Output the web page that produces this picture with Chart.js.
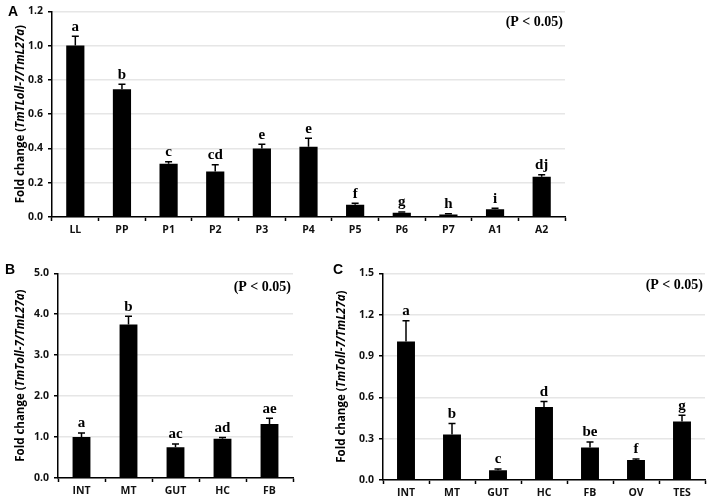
<!DOCTYPE html>
<html>
<head>
<meta charset="utf-8">
<script src="https://cdn.jsdelivr.net/npm/chart.js@4/dist/chart.umd.min.js"></script>
<style>
  body { margin: 0; background: #fff; }
  #wrap { position: relative; width: 708px; height: 500px; overflow: hidden; }
  .box { position: absolute; }
  .panel { position: absolute; font: bold 14px "Liberation Sans", Arial, sans-serif; color: #000; }
</style>
</head>
<body>
<div id="wrap">
  <div class="box" style="left:0;top:0;width:575px;height:245px"><canvas id="chartA"></canvas></div>
  <div class="box" style="left:0;top:262px;width:300px;height:238px"><canvas id="chartB"></canvas></div>
  <div class="box" style="left:330px;top:262px;width:378px;height:238px"><canvas id="chartC"></canvas></div>
  <div class="panel" style="left:8px;top:3px">A</div>
  <div class="panel" style="left:5px;top:261px">B</div>
  <div class="panel" style="left:333px;top:261px">C</div>
</div>
<script>
// Panel A: developmental stages
const stagesA = ['LL', 'PP', 'P1', 'P2', 'P3', 'P4', 'P5', 'P6', 'P7', 'A1', 'A2'];
const foldA = [1.00, 0.745, 0.31, 0.265, 0.40, 0.41, 0.072, 0.025, 0.015, 0.045, 0.235];
const errA = [0.055, 0.03, 0.012, 0.04, 0.025, 0.05, 0.008, 0.004, 0.004, 0.006, 0.012];
const sigA = ['a', 'b', 'c', 'cd', 'e', 'e', 'f', 'g', 'h', 'i', 'dj'];
const ticksA = [0, 0.2, 0.4, 0.6, 0.8, 1.0, 1.2];

// Panel B: larval tissues
const tissuesB = ['INT', 'MT', 'GUT', 'HC', 'FB'];
const foldB = [1.0, 3.75, 0.75, 0.96, 1.32];
const errB = [0.1, 0.2, 0.08, 0.03, 0.14];
const sigB = ['a', 'b', 'ac', 'ad', 'ae'];
const ticksB = [0, 1, 2, 3, 4, 5];

// Panel C: adult tissues
const tissuesC = ['INT', 'MT', 'GUT', 'HC', 'FB', 'OV', 'TES'];
const foldC = [1.005, 0.33, 0.07, 0.53, 0.235, 0.145, 0.425];
const errC = [0.15, 0.08, 0.01, 0.04, 0.04, 0.008, 0.045];
const sigC = ['a', 'b', 'c', 'd', 'be', 'f', 'g'];
const ticksC = [0, 0.3, 0.6, 0.9, 1.2, 1.5];

const tickFont = { family: '"Open Sans", sans-serif', size: 10.5, weight: 'bold' };

// error bars + significance letters + p-value note + y title
const extrasPlugin = {
  id: 'extras',
  afterDatasetsDraw(chart, args, opts) {
    const ctx = chart.ctx;
    const meta = chart.getDatasetMeta(0);
    const y = chart.scales.y;
    ctx.save();
    ctx.strokeStyle = '#000';
    ctx.lineWidth = 1.5;
    ctx.fillStyle = '#000';
    ctx.font = 'bold 15px "Liberation Serif", "Times New Roman", serif';
    ctx.textAlign = 'center';
    ctx.textBaseline = 'bottom';
    meta.data.forEach((bar, i) => {
      const v = chart.data.datasets[0].data[i];
      const top = y.getPixelForValue(v + opts.err[i]);
      ctx.beginPath();
      ctx.moveTo(bar.x, bar.y);
      ctx.lineTo(bar.x, top);
      ctx.moveTo(bar.x - 3.5, top);
      ctx.lineTo(bar.x + 3.5, top);
      ctx.stroke();
      ctx.fillText(opts.sig[i], bar.x, top - 2);
    });
    // p-value note
    const ca = chart.chartArea;
    ctx.textAlign = 'right';
    ctx.textBaseline = 'middle';
    ctx.font = 'bold 14px "Liberation Serif", "Times New Roman", serif';
    ctx.fillText('(P < 0.05)', ca.right - 2, ca.top + opts.noteDy);
    // y axis title with italic gene names
    const parts = [
      ['Fold change (', 'bold 11.5px "Open Sans", sans-serif'],
      [opts.gene, 'italic bold 11.5px "Open Sans", sans-serif'],
      [')', 'bold 11.5px "Open Sans", sans-serif']
    ];
    let total = 0;
    parts.forEach(p => { ctx.font = p[1]; total += ctx.measureText(p[0]).width; });
    ctx.translate(opts.titleX, (ca.top + ca.bottom) / 2);
    ctx.rotate(-Math.PI / 2);
    ctx.textAlign = 'left';
    let x = -total / 2;
    parts.forEach(p => {
      ctx.font = p[1];
      ctx.fillText(p[0], x, 0);
      x += ctx.measureText(p[0]).width;
    });
    ctx.restore();
  }
};

function makeChart(id, labels, values, errs, sig, ticks, o) {
  return new Chart(document.getElementById(id), {
    type: 'bar',
    data: {
      labels: labels,
      datasets: [{
        data: values,
        backgroundColor: '#000',
        barPercentage: o.barPct,
        categoryPercentage: 1
      }]
    },
    options: {
      responsive: true,
      maintainAspectRatio: false,
      animation: false,
      layout: { padding: { left: 0, right: o.padRight, top: 11, bottom: 0 } },
      plugins: {
        legend: { display: false },
        tooltip: { enabled: false },
        extras: { err: errs, sig: sig, gene: o.gene, titleX: o.titleX, noteDy: o.noteDy }
      },
      scales: {
        x: {
          grid: { offset: true, drawOnChartArea: false, tickLength: 4, tickColor: '#000', tickWidth: 1.5 },
          border: { color: '#000', width: 1.5 },
          ticks: { color: '#111', font: tickFont, padding: 3 },
          afterFit: s => { s.height = o.xHeight; }
        },
        y: {
          min: ticks[0],
          max: ticks[ticks.length - 1],
          afterBuildTicks: s => { s.ticks = ticks.map(v => ({ value: v })); },
          grid: { color: '#e6e6e6', lineWidth: 1.5, tickLength: 4, tickColor: '#000', tickWidth: 1.5 },
          border: { color: '#000', width: 1.5 },
          ticks: { color: '#111', font: tickFont, padding: 5, callback: v => v.toFixed(1) },
          afterFit: s => { s.width = o.yWidth; }
        }
      }
    },
    plugins: [extrasPlugin]
  });
}

makeChart('chartA', stagesA, foldA, errA, sigA, ticksA,
  { barPct: 0.39, padRight: 10, xHeight: 28, yWidth: 52, gene: 'TmTLoll-7/TmL27a', titleX: 21, noteDy: 11 });
makeChart('chartB', tissuesB, foldB, errB, sigB, ticksB,
  { barPct: 0.38, padRight: 7, xHeight: 22, yWidth: 58, gene: 'TmToll-7/TmL27a', titleX: 21, noteDy: 14 });
makeChart('chartC', tissuesC, foldC, errC, sigC, ticksC,
  { barPct: 0.39, padRight: 3, xHeight: 20, yWidth: 53, gene: 'TmToll-7/TmL27a', titleX: 12, noteDy: 12 });
</script>
</body>
</html>
